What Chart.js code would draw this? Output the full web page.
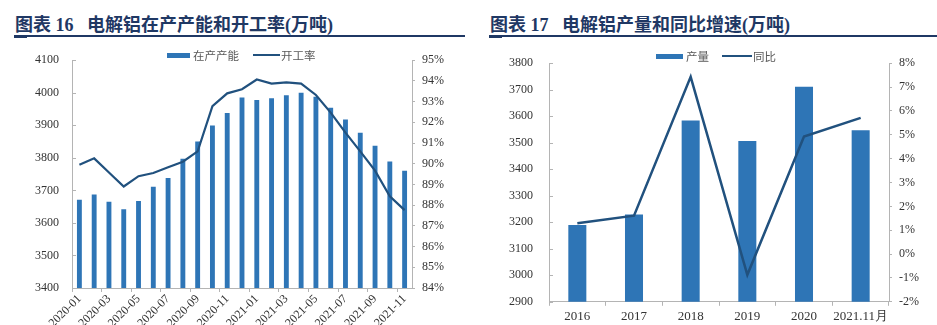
<!DOCTYPE html>
<html><head><meta charset="utf-8">
<script src="https://cdn.jsdelivr.net/npm/chart.js@4/dist/chart.umd.min.js"></script>
<style>
html,body{margin:0;padding:0;background:#fff;}
body{width:937px;height:325px;overflow:hidden;position:relative;}
.title{position:absolute;top:15px;font-family:'Liberation Serif','Noto Sans CJK SC',serif;font-weight:bold;font-size:18px;color:#1F3864;white-space:pre;line-height:20px;}
.rule{position:absolute;top:35px;height:2px;background:#1F3864;}
.accent{position:absolute;top:34.5px;height:3px;width:13px;background:#1F3864;}
.cv{position:absolute;top:40px;}
.lg{position:absolute;font-family:'Noto Sans CJK SC',sans-serif;font-size:11.5px;color:#595959;line-height:14px;white-space:nowrap;}
.sw{position:absolute;}
</style></head>
<body>
<div class="title" style="left:15px">图表 16   电解铝在产产能和开工率(万吨)</div>
<div class="rule" style="left:14px;width:451px"></div>
<div class="accent" style="left:14px"></div>
<div class="title" style="left:490px">图表 17   电解铝产量和同比增速(万吨)</div>
<div class="rule" style="left:489px;width:448px"></div>
<div class="accent" style="left:489px"></div>

<canvas id="c1" class="cv" width="468" height="285" style="left:0px;width:468px;height:285px"></canvas>
<canvas id="c2" class="cv" width="467" height="285" style="left:470px;width:467px;height:285px"></canvas>

<div class="sw" style="left:167px;top:52.5px;width:23px;height:5px;background:#2E75B6"></div>
<div class="lg" style="left:193px;top:48px">在产产能</div>
<div class="sw" style="left:253px;top:54px;width:27px;height:2px;background:#21517E"></div>
<div class="lg" style="left:281px;top:48px">开工率</div>

<div class="sw" style="left:656px;top:53.5px;width:27px;height:5px;background:#2E75B6"></div>
<div class="lg" style="left:686px;top:49px">产量</div>
<div class="sw" style="left:722px;top:55px;width:30px;height:2px;background:#21517E"></div>
<div class="lg" style="left:753px;top:49px">同比</div>

<script>
// ---- data ----
const months = ['2020-01','2020-02','2020-03','2020-04','2020-05','2020-06','2020-07','2020-08','2020-09','2020-10','2020-11','2020-12',
                '2021-01','2021-02','2021-03','2021-04','2021-05','2021-06','2021-07','2021-08','2021-09','2021-10','2021-11'];
const capacity = [3671,3687,3665,3642,3667,3711,3738,3797,3850,3899,3938,3985,
                  3978,3983,3992,4000,3988,3954,3918,3877,3837,3789,3760];
const utilRate = [89.95,90.26,89.58,88.9,89.4,89.55,89.83,90.1,90.6,92.78,93.4,93.6,
                  94.07,93.87,93.93,93.87,93.32,92.47,91.5,90.6,89.67,88.43,87.76];
const years = ['2016','2017','2018','2019','2020','2021.11月'];
const output = [3190,3229,3584,3507,3711,3547];
const yoy = [1.29,1.61,7.43,-0.87,4.93,5.71];

// ---- styles ----
const BAR = '#2E75B6', LINE = '#21517E', AX = '#b4b4b4', TXT = '#333333';
const SERIF = "'Liberation Serif', 'Times New Roman', serif";

const inTicks = {
  id:'inTicks',
  afterDraw(chart){
    const s = chart.scales.y; const ctx = chart.ctx;
    ctx.save(); ctx.strokeStyle = AX; ctx.lineWidth = 1; ctx.beginPath();
    s.ticks.forEach(t=>{ const y = Math.round(s.getPixelForValue(t.value))+0.5;
      ctx.moveTo(s.right, y); ctx.lineTo(s.right+4, y); });
    ctx.stroke(); ctx.restore();
  }
};

Chart.defaults.animation = false;

new Chart(document.getElementById('c1'), {
  data:{ labels: months, datasets:[
    {type:'line', label:'开工率', data: utilRate, yAxisID:'y1', borderColor: LINE, borderWidth:2.2, pointRadius:0, tension:0, order:0},
    {type:'bar', label:'在产产能', data: capacity, yAxisID:'y', backgroundColor: BAR, barPercentage:0.33, categoryPercentage:1, order:1}
  ]},
  options:{
    responsive:false, animation:false,
    layout:{padding:{top:12,left:0,right:0,bottom:0}},
    plugins:{legend:{display:false}, tooltip:{enabled:false}},
    scales:{
      x:{offset:true,
         grid:{offset:true, drawOnChartArea:false, tickLength:4, color:(c)=> (c.index%2===0 ? AX : 'rgba(0,0,0,0)')},
         border:{color:AX},
         ticks:{autoSkip:false, maxRotation:45, minRotation:45, padding:0, color:TXT, font:{family:SERIF,size:12},
                callback:(v,i)=> (i%2===0 ? months[i] : '')},
         afterFit:(s)=>{ s.height = 37; }},
      y:{position:'left', min:3400, max:4100,
         ticks:{stepSize:100, padding:13, color:TXT, font:{family:SERIF,size:12}, callback:(v)=> String(v)},
         grid:{drawOnChartArea:false, drawTicks:false},
         border:{color:AX},
         afterFit:(s)=>{ s.width = 72; }},
      y1:{position:'right', min:84, max:95,
         ticks:{stepSize:1, padding:7, color:TXT, font:{family:SERIF,size:12}, callback:(v)=> v+'%'},
         grid:{drawOnChartArea:false, tickLength:3, color:AX},
         border:{color:AX},
         afterFit:(s)=>{ s.width = 56; }}
    }
  },
  plugins:[inTicks]
});

new Chart(document.getElementById('c2'), {
  data:{ labels: years, datasets:[
    {type:'line', label:'同比', data: yoy, yAxisID:'y1', borderColor: LINE, borderWidth:2.5, pointRadius:0, tension:0, order:0},
    {type:'bar', label:'产量', data: output, yAxisID:'y', backgroundColor: BAR, barPercentage:0.318, categoryPercentage:1, order:1}
  ]},
  options:{
    responsive:false, animation:false,
    layout:{padding:{top:13,left:0,right:0,bottom:0}},
    plugins:{legend:{display:false}, tooltip:{enabled:false}},
    scales:{
      x:{offset:true,
         grid:{offset:true, drawOnChartArea:false, tickLength:4, color:AX},
         border:{color:AX},
         ticks:{autoSkip:false, maxRotation:0, minRotation:0, padding:3, color:TXT, font:{family:SERIF,size:13}},
         afterFit:(s)=>{ s.height = 22; }},
      y:{position:'left', min:2900, max:3800,
         ticks:{stepSize:100, padding:16, color:TXT, font:{family:SERIF,size:12}, callback:(v)=> String(v)},
         grid:{drawOnChartArea:false, drawTicks:false},
         border:{color:AX},
         afterFit:(s)=>{ s.width = 79; }},
      y1:{position:'right', min:-2, max:8,
         ticks:{stepSize:1, padding:7, color:TXT, font:{family:SERIF,size:12}, callback:(v)=> v+'%'},
         grid:{drawOnChartArea:false, tickLength:3, color:AX},
         border:{color:AX},
         afterFit:(s)=>{ s.width = 48; }}
    }
  },
  plugins:[inTicks]
});
</script>
</body></html>
